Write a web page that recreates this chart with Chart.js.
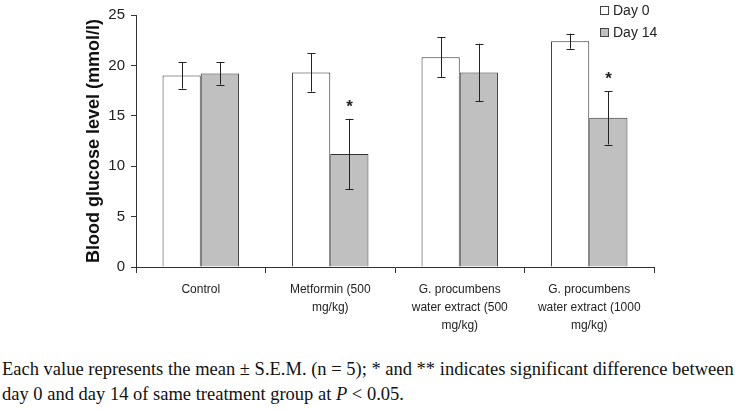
<!DOCTYPE html>
<html>
<head>
<meta charset="utf-8">
<script src="https://cdn.jsdelivr.net/npm/chart.js@4"></script>
<style>
  body { margin: 0; background: #fff; }
  #wrap { position: relative; width: 739px; height: 409px; overflow: hidden; }
  canvas { position: absolute; left: 0; top: 0; }
  .caption {
    position: absolute; left: 2px; top: 357px;
    font-family: "Liberation Serif", serif; font-size: 18.5px; line-height: 25px;
    white-space: nowrap; color: #111;
  }
</style>
</head>
<body>
<div id="wrap">
  <canvas id="glucoseChart" width="739" height="345"></canvas>
  <div class="caption">Each value represents the mean ± S.E.M. (n = 5); * and ** indicates significant difference between<br>day 0 and day 14 of same treatment group at <i>P</i> &lt; 0.05.</div>
</div>
<script>
const groups = [
  ['Control'],
  ['Metformin (500', 'mg/kg)'],
  ['G. procumbens', 'water extract (500', 'mg/kg)'],
  ['G. procumbens', 'water extract (1000', 'mg/kg)']
];
const day0 = [19.0, 19.3, 20.8, 22.4];
const day0Err = [1.3, 1.9, 2.0, 0.75];
const day14 = [19.2, 11.2, 19.3, 14.8];
const day14Err = [1.1, 3.5, 2.85, 2.65];
const day14Sig = ['', '*', '', '*'];
const yTicks = [0, 5, 10, 15, 20, 25];

const errors = [day0Err, day14Err];
const marks = [null, day14Sig];

// error bars + significance stars
const errorBars = {
  id: 'errorBars',
  afterDatasetsDraw(chart) {
    const ctx = chart.ctx;
    const y = chart.scales.y;
    ctx.save();
    ctx.strokeStyle = '#222';
    ctx.lineWidth = 1;
    chart.data.datasets.forEach((ds, di) => {
      const meta = chart.getDatasetMeta(di);
      meta.data.forEach((bar, i) => {
        const v = ds.data[i], e = errors[di][i];
        const x = Math.round(bar.x) + 0.5;
        const top = y.getPixelForValue(v + e);
        const bot = y.getPixelForValue(v - e);
        ctx.beginPath();
        ctx.moveTo(x, top); ctx.lineTo(x, bot);
        ctx.moveTo(x - 4, Math.round(top) + 0.5); ctx.lineTo(x + 4, Math.round(top) + 0.5);
        ctx.moveTo(x - 4, Math.round(bot) + 0.5); ctx.lineTo(x + 4, Math.round(bot) + 0.5);
        ctx.stroke();
        if (marks[di] && marks[di][i]) {
          ctx.fillStyle = '#222';
          ctx.font = 'bold 17px "Liberation Sans", Arial';
          ctx.textAlign = 'center';
          ctx.textBaseline = 'middle';
          ctx.fillText(marks[di][i], x, top - 12);
        }
      });
    });
    ctx.restore();
  }
};

// small legend in the top right corner
const cornerLegend = {
  id: 'cornerLegend',
  afterDraw(chart) {
    const ctx = chart.ctx;
    ctx.save();
    ctx.font = '14px "Liberation Sans", Arial';
    ctx.textBaseline = 'middle';
    chart.data.datasets.forEach((ds, i) => {
      const cy = 11 + i * 22;
      ctx.fillStyle = ds.backgroundColor;
      ctx.fillRect(600.5, cy - 4.5, 8, 8);
      ctx.strokeStyle = '#444';
      ctx.lineWidth = 1;
      ctx.strokeRect(600.5, cy - 4.5, 8, 8);
      ctx.fillStyle = '#222';
      ctx.fillText(ds.label, 613, cy);
    });
    ctx.restore();
  }
};

new Chart(document.getElementById('glucoseChart'), {
  type: 'bar',
  data: {
    labels: groups,
    datasets: [
      { label: 'Day 0', data: day0, backgroundColor: '#ffffff', borderColor: '#333', borderWidth: 1 },
      { label: 'Day 14', data: day14, backgroundColor: '#c0c0c0', borderColor: '#333', borderWidth: 1 }
    ]
  },
  options: {
    responsive: false,
    animation: false,
    layout: { padding: { left: 0, right: 85, top: 15, bottom: 0 } },
    datasets: { bar: { categoryPercentage: 0.59, barPercentage: 1 } },
    plugins: { legend: { display: false }, tooltip: { enabled: false } },
    scales: {
      x: {
        grid: { display: true, drawOnChartArea: false, drawTicks: true, tickLength: 6, color: '#333', offset: true },
        border: { display: true, color: '#333' },
        ticks: {
          color: '#222', padding: 8, maxRotation: 0, autoSkip: false,
          font: { family: '"Liberation Sans", Arial', size: 12, lineHeight: 1.5 }
        },
        afterFit(scale) { scale.height = 78; }
      },
      y: {
        min: 0, max: 25,
        afterBuildTicks(scale) { scale.ticks = yTicks.map(v => ({ value: v })); },
        grid: { display: true, drawOnChartArea: false, drawTicks: true, tickLength: 5, color: '#333' },
        border: { display: true, color: '#333' },
        ticks: {
          color: '#222', padding: 6,
          font: { family: '"Liberation Sans", Arial', size: 15 }
        },
        title: {
          display: true, text: 'Blood glucose level (mmol/l)', color: '#111',
          font: { family: '"Liberation Sans", Arial', size: 18, weight: 'bold' },
          padding: { top: 83, bottom: 0 }
        },
        afterFit(scale) { scale.width = 136; }
      }
    }
  },
  plugins: [errorBars, cornerLegend]
});
</script>
</body>
</html>
